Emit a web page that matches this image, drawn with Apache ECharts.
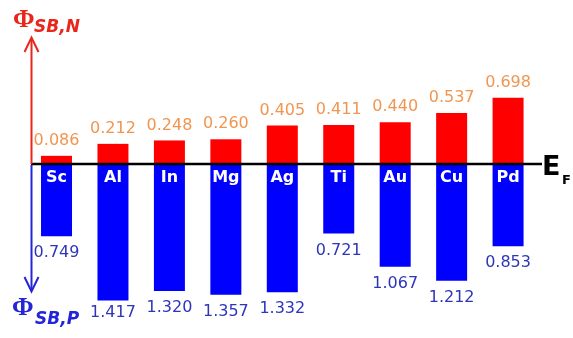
<!DOCTYPE html>
<html>
<head>
<meta charset="utf-8">
<script src="https://cdn.jsdelivr.net/npm/echarts@6/dist/echarts.min.js"></script>
<style>
  html, body { margin: 0; padding: 0; background: #fff; }
  #chart { width: 573px; height: 338px; }
</style>
</head>
<body>
<div id="chart"></div>
<script>
// Metal contacts and their Schottky barrier heights (eV)
const metals = ['Sc', 'Al', 'In', 'Mg', 'Ag', 'Ti', 'Au', 'Cu', 'Pd'];
const barrierN = [0.086, 0.212, 0.248, 0.260, 0.405, 0.411, 0.440, 0.537, 0.698];
const barrierP = [0.749, 1.417, 1.320, 1.357, 1.332, 0.721, 1.067, 1.212, 0.853];

const chart = echarts.init(document.getElementById('chart'));

const valueFont = 'DejaVu Sans';
const downward = barrierP.map(v => -v);
const deepest = Math.max(...barrierP);
// the label under the deepest bar is tucked a little closer to it
const downwardItems = barrierP.map(v => (
  v === deepest ? { value: -v, label: { distance: 4 } } : -v
));

chart.setOption({
  animation: false,
  backgroundColor: '#ffffff',
  grid: { left: 28.3, right: 36.7, top: 20, bottom: 18 },
  xAxis: {
    type: 'category',
    data: metals,
    axisLine: { show: false },
    axisTick: { show: false },
    splitLine: { show: false },
    axisLabel: { show: false }
  },
  yAxis: [
    { type: 'value', min: -1.6421, max: 1.5158, show: false },
    { type: 'value', min: -1.6199, max: 1.4953, show: false }
  ],
  series: [
    {
      name: 'N',
      type: 'bar',
      yAxisIndex: 0,
      data: barrierN,
      barWidth: 31,
      barGap: '-100%',
      itemStyle: { color: '#ff0000' },
      label: {
        show: true,
        position: 'top',
        distance: 7,
        color: '#F09650',
        fontFamily: valueFont,
        fontSize: 16,
        formatter: p => p.value.toFixed(3)
      }
    },
    {
      name: 'P',
      type: 'bar',
      yAxisIndex: 1,
      data: downwardItems,
      barWidth: 31,
      barGap: '-100%',
      itemStyle: { color: '#0000ff' },
      label: {
        show: true,
        position: 'bottom',
        distance: 9,
        color: '#2E35B8',
        fontFamily: valueFont,
        fontSize: 16,
        formatter: p => Math.abs(p.value).toFixed(3)
      }
    },
    {
      // metal names written just under the Fermi level, inside the lower bars
      name: 'metal',
      type: 'bar',
      yAxisIndex: 1,
      data: downward,
      barWidth: 31,
      barGap: '-100%',
      z: 3,
      silent: true,
      itemStyle: { color: 'rgba(0,0,0,0)' },
      label: {
        show: true,
        position: 'insideTop',
        distance: 6,
        color: '#ffffff',
        fontFamily: valueFont,
        fontWeight: 'bold',
        fontSize: 16,
        formatter: p => p.name
      }
    }
  ]
});

// Fermi level line, barrier arrows and axis titles
const y0 = chart.convertToPixel({ yAxisIndex: 0 }, 0);
const red = '#E8261C';
const blue = '#2424D8';

function label(text, x, y, color, size, family, italic) {
  return {
    type: 'text', z: 50, x: x, y: y,
    style: {
      text: text, fill: color, fontSize: size, fontWeight: 'bold',
      fontStyle: italic ? 'italic' : 'normal', fontFamily: family,
      verticalAlign: 'middle'
    }
  };
}

chart.setOption({
  graphic: [
    {
      type: 'line', z: 50,
      shape: { x1: 31, y1: y0, x2: 542, y2: y0 },
      style: { stroke: '#000000', lineWidth: 2.5 }
    },
    {
      type: 'polyline', z: 50,
      shape: { points: [[31.5, y0], [31.5, 38]] },
      style: { stroke: red, lineWidth: 2, fill: null }
    },
    {
      type: 'polyline', z: 50,
      shape: { points: [[24.5, 52], [31.5, 37.5], [38.5, 52]] },
      style: { stroke: red, lineWidth: 2, fill: null }
    },
    {
      type: 'polyline', z: 50,
      shape: { points: [[31.5, y0 + 1], [31.5, 291]] },
      style: { stroke: blue, lineWidth: 2, fill: null }
    },
    {
      type: 'polyline', z: 50,
      shape: { points: [[24.5, 277], [31.5, 291.5], [38.5, 277]] },
      style: { stroke: blue, lineWidth: 2, fill: null }
    },
    label('Φ', 13, 20.7, red, 26, 'Liberation Serif', false),
    label('SB,N', 34, 27.1, red, 17, 'DejaVu Sans', true),
    label('Φ', 12, 308.2, blue, 26, 'Liberation Serif', false),
    label('SB,P', 35, 319.6, blue, 17, 'DejaVu Sans', true),
    label('E', 542, 167.5, '#000000', 27, 'DejaVu Sans', false),
    label('F', 562, 181, '#000000', 13, 'DejaVu Sans', false)
  ]
});
</script>
</body>
</html>
